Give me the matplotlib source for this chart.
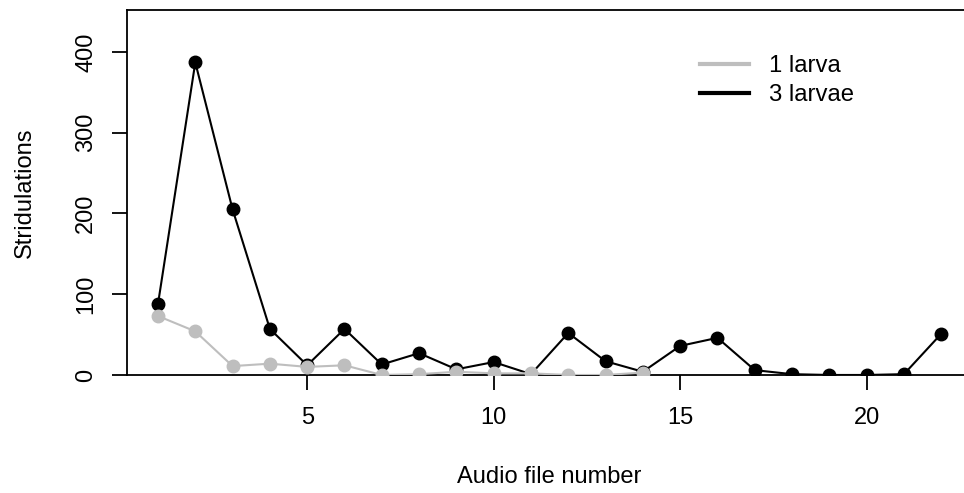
import numpy as np
import matplotlib
matplotlib.use("Agg")
import matplotlib.pyplot as plt
from matplotlib.lines import Line2D

plt.rcParams['font.family'] = ['Liberation Sans', 'DejaVu Sans']

# Stridulations per audio file
files_three = np.arange(1, 23)
three_larvae = [88, 387, 205, 57, 12, 57, 13, 27, 7, 16, 1, 52, 17, 4,
                36, 46, 6, 1, 0, 0, 1, 51]
files_one = np.arange(1, 15)
one_larva = [73, 54, 11, 14, 10, 12, 0, 1, 4, 2, 2, 0, 0, 3]

x_ticks = [5, 10, 15, 20]
y_ticks = [0, 100, 200, 300, 400]
grey = '#BEBEBE'

fig = plt.figure(figsize=(9.64, 4.93), dpi=100)
# the right side of the box is cut off by the image edge
ax = fig.add_axes([0.1314, 0.2394, 0.8775, 0.7404])

ax.plot(files_three, three_larvae, color='black', lw=1.5, marker='o',
        markersize=9, zorder=3)
ax.plot(files_one, one_larva, color=grey, lw=1.5, marker='o',
        markersize=9, zorder=4)

ax.set_xlim(0.16, 22.84)
ax.set_ylim(0, 452)
ax.set_xticks(x_ticks)
ax.set_yticks(y_ticks)

for sp in ax.spines.values():
    sp.set_linewidth(1.3)
    sp.set_zorder(2)

ax.tick_params(axis='both', direction='out', length=10.8, width=1.3,
               labelsize=17, color='black')
ax.tick_params(axis='x', pad=12.5)
ax.tick_params(axis='y', pad=10.5)
for lab in ax.get_yticklabels():
    lab.set_rotation(90)
    lab.set_va('center')

ax.set_xlabel('Audio file number', fontsize=17, va='top')
ax.xaxis.set_label_coords(0.5, -0.249)
ax.set_ylabel('Stridulations', fontsize=17)
ax.yaxis.set_label_coords(-0.107, 0.5)

handles = [Line2D([], [], color=grey, lw=3),
           Line2D([], [], color='black', lw=3)]
ax.legend(handles, ['1 larva', '3 larvae'], loc='upper left',
          bbox_to_anchor=(0.6778, 0.8767), frameon=False, fontsize=17.2,
          borderpad=0, borderaxespad=0, handlelength=2.05,
          handletextpad=0.85, labelspacing=0.29)

fig.savefig('out.png', dpi=100)
